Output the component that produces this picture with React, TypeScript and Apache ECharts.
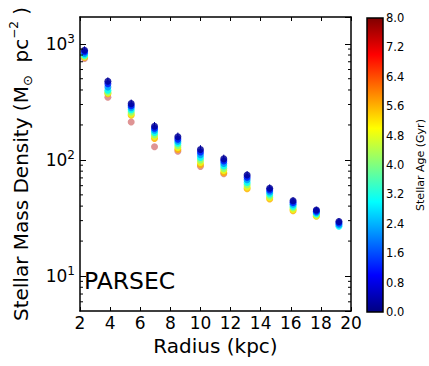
import React, { useEffect, useRef } from "react";
import * as echarts from "echarts";

// Radii of the measurement annuli (kpc)
const radii = [2.3, 3.85, 5.4, 6.95, 8.5, 10.0, 11.55, 13.1, 14.6, 16.15, 17.7, 19.2];

// Stellar age of each profile (Gyr)
const ages = [7.6, 5.6, 4.8, 4.0, 3.0, 2.2, 1.2, 0.2];

// Stellar mass density (Msun pc^-2), one profile per age (same order as ages)
const density_7_6 = [748, 346, 212, 130, 119, 88, 76, null, null, null, null, null];
const density_5_6 = [765, 371, 242, 153, 123, 91, 77.5, 56.5, 46, 36.5, 32.8, null];
const density_4_8 = [775, 377, 249, 159, 128, 95, 81, 58.5, 47.5, 37.5, 33.2, null];
const density_4_0 = [785, 384, 259, 165, 133, 100, 84.5, 61, 49, 38.8, 33.8, null];
const density_3_0 = [800, 398, 270, 172, 139, 105, 88.5, 64, 51, 40, 34.5, 26.9];
const density_2_2 = [825, 425, 282, 180, 145, 111, 93, 67.5, 53, 41.5, 35.3, 27.7];
const density_1_2 = [855, 452, 293, 187, 151, 117, 98, 71, 55, 43, 36.2, 28.6];
const density_0_2 = [880, 475, 305, 195, 158, 123, 102, 74, 57, 44.5, 37, 29.5];
const profiles = [density_7_6, density_5_6, density_4_8, density_4_0, density_3_0, density_2_2, density_1_2, density_0_2];

// Error bars of the youngest profile
const err_0_2 = [70, 38, 26, 17, 14, 11, 9, 6, 4.5, 3.2, 2.5, 2];

// Axis ticks
const xTickStep = 2;
const yMinorTicks = [6, 7, 8, 9, 20, 30, 40, 50, 60, 70, 80, 90, 200, 300, 400, 500, 600, 700, 800, 900];
const ageMin = 0;
const ageMax = 8;
const ageTickStep = 0.8;

const FONT = "DejaVu Sans";

function clamp(v: number) {
  return Math.max(0, Math.min(1, v));
}
function jet(t: number) {
  const r = clamp(Math.min(4 * t - 1.5, -4 * t + 4.5));
  const g = clamp(Math.min(4 * t - 0.5, -4 * t + 3.5));
  const b = clamp(Math.min(4 * t + 0.5, -4 * t + 2.5));
  return `rgb(${Math.round(r * 255)},${Math.round(g * 255)},${Math.round(b * 255)})`;
}

export default function App() {
  const ref = useRef<HTMLDivElement>(null);
  useEffect(() => {
    if (!ref.current) return;
    const chart = echarts.init(ref.current, null, { renderer: "svg" });

    const scatterSeries = profiles.map((vals, i) => {
      const age = ages[i];
      const t = (age - ageMin) / (ageMax - ageMin);
      const oldest = age > 7;
      return {
        type: "scatter",
        xAxisIndex: 0,
        yAxisIndex: 0,
        symbol: "circle",
        symbolSize: 7,
        z: 3,
        itemStyle: { color: jet(t), opacity: oldest ? 0.42 : 0.85 },
        data: radii.map((r, k) => [r, vals[k]]).filter((d) => d[1] != null),
        silent: true,
      } as any;
    });

    const option: any = {
      animation: false,
      textStyle: { fontFamily: FONT },
      title: {
        text: "PARSEC",
        left: 79,
        top: 264,
        textStyle: { fontFamily: FONT, fontSize: 23.5, fontWeight: "normal", color: "#000" },
      },
      grid: [
        { left: 77, right: 78, top: 17, bottom: 55 },
        { left: 367, width: 16, top: 18, bottom: 54 },
      ],
      xAxis: [
        {
          type: "value",
          gridIndex: 0,
          min: 2,
          max: 20,
          interval: xTickStep,
          splitLine: { show: false },
          axisLine: { lineStyle: { color: "#000", width: 1.5 } },
          axisTick: { inside: true, length: 4, lineStyle: { color: "#000", width: 1 } },
          axisLabel: { fontSize: 17, color: "#000", margin: 3, fontFamily: FONT },
          name: "Radius (kpc)",
          nameLocation: "middle",
          nameGap: 25,
          nameTextStyle: { fontSize: 20, color: "#000", fontFamily: FONT },
        },
        {
          type: "value",
          gridIndex: 0,
          position: "top",
          min: 2,
          max: 20,
          interval: xTickStep,
          splitLine: { show: false },
          axisLine: { lineStyle: { color: "#000", width: 1.5 } },
          axisTick: { inside: true, length: 4, lineStyle: { color: "#000", width: 1 } },
          axisLabel: { show: false },
        },
        {
          type: "value",
          gridIndex: 1,
          min: 0,
          max: 1,
          show: false,
        },
      ],
      yAxis: [
        {
          type: "log",
          gridIndex: 0,
          logBase: 10,
          min: 5,
          max: 1700,
          splitLine: { show: false },
          axisLine: { lineStyle: { color: "#000", width: 1.5 } },
          axisTick: { inside: true, length: 6, lineStyle: { color: "#000", width: 1 } },
          axisLabel: {
            showMinLabel: false,
            showMaxLabel: false,
            margin: 5,
            formatter: (v: number) => `{b|10}{s|${Math.round(Math.log10(v))}}`,
            rich: {
              b: { fontSize: 17, color: "#000", fontFamily: FONT, lineHeight: 22 },
              s: { fontSize: 12, color: "#000", fontFamily: FONT, verticalAlign: "top", lineHeight: 12 },
            },
          },
          name: "Stellar Mass Density (M{sub|⊙}  pc{sup|−2} )",
          nameLocation: "middle",
          nameRotate: 90,
          nameGap: 46,
          nameTextStyle: {
            fontSize: 20,
            color: "#000",
            fontFamily: FONT,
            lineHeight: 26,
            rich: {
              sub: { fontSize: 13, color: "#000", fontFamily: FONT, verticalAlign: "bottom", lineHeight: 13 },
              sup: { fontSize: 12, color: "#000", fontFamily: FONT, verticalAlign: "top", lineHeight: 12 },
            },
          },
        },
        {
          type: "log",
          gridIndex: 0,
          logBase: 10,
          position: "right",
          min: 5,
          max: 1700,
          splitLine: { show: false },
          axisLine: { lineStyle: { color: "#000", width: 1.5 } },
          axisTick: { inside: true, length: 6, lineStyle: { color: "#000", width: 1 } },
          axisLabel: { show: false },
        },
        {
          type: "value",
          gridIndex: 1,
          position: "right",
          min: ageMin,
          max: ageMax,
          interval: ageTickStep,
          splitLine: { show: false },
          axisLine: { show: false },
          axisTick: { show: false },
          axisLabel: {
            fontSize: 11.5,
            color: "#000",
            margin: 3,
            fontFamily: FONT,
            formatter: (v: number) => v.toFixed(1),
          },
          name: "Stellar Age (Gyr)",
          nameLocation: "middle",
          nameRotate: 90,
          nameGap: 32,
          nameTextStyle: { fontSize: 11, color: "#000", fontFamily: FONT },
        },
      ],
      series: [
        {
          type: "custom",
          xAxisIndex: 2,
          yAxisIndex: 2,
          silent: true,
          data: [[ageMin, ageMin]],
          renderItem: (params: any, api: any) => {
            const p0 = api.coord([0, ageMin]);
            const p1 = api.coord([1, ageMax]);
            const stops = [1, 0.875, 0.625, 0.375, 0.125, 0].map((t) => ({ offset: 1 - t, color: jet(t) }));
            return {
              type: "rect",
              shape: { x: p0[0], y: p1[1], width: p1[0] - p0[0], height: p0[1] - p1[1] },
              style: {
                fill: new echarts.graphic.LinearGradient(0, 0, 0, 1, stops),
                stroke: "#000",
                lineWidth: 1.5,
              },
            };
          },
        },
        {
          type: "custom",
          xAxisIndex: 0,
          yAxisIndex: 0,
          silent: true,
          z: 2,
          data: radii.map((r, k) => [r, density_0_2[k], err_0_2[k]]),
          renderItem: (params: any, api: any) => {
            const x = api.value(0);
            const y = api.value(1);
            const e = api.value(2);
            const top = api.coord([x, y + e]);
            const bot = api.coord([x, y - e]);
            return {
              type: "line",
              shape: { x1: top[0], y1: top[1], x2: bot[0], y2: bot[1] },
              style: { stroke: jet(0.025), lineWidth: 1 },
            };
          },
        },
        ...scatterSeries,
        {
          type: "custom",
          xAxisIndex: 0,
          yAxisIndex: 0,
          silent: true,
          z: 4,
          data: yMinorTicks.map((v) => [2, v]),
          renderItem: (params: any, api: any) => {
            const p = api.coord([api.value(0), api.value(1)]);
            const cs = params.coordSys;
            return {
              type: "group",
              children: [
                {
                  type: "line",
                  shape: { x1: cs.x, y1: p[1], x2: cs.x + 3, y2: p[1] },
                  style: { stroke: "#000", lineWidth: 1 },
                },
                {
                  type: "line",
                  shape: { x1: cs.x + cs.width - 3, y1: p[1], x2: cs.x + cs.width, y2: p[1] },
                  style: { stroke: "#000", lineWidth: 1 },
                },
              ],
            };
          },
        },
      ],
    };
    chart.setOption(option);
    return () => chart.dispose();
  }, []);
  return <div ref={ref} style={{ width: 429, height: 366, position: "absolute", left: 0, top: 0 }} />;
}
